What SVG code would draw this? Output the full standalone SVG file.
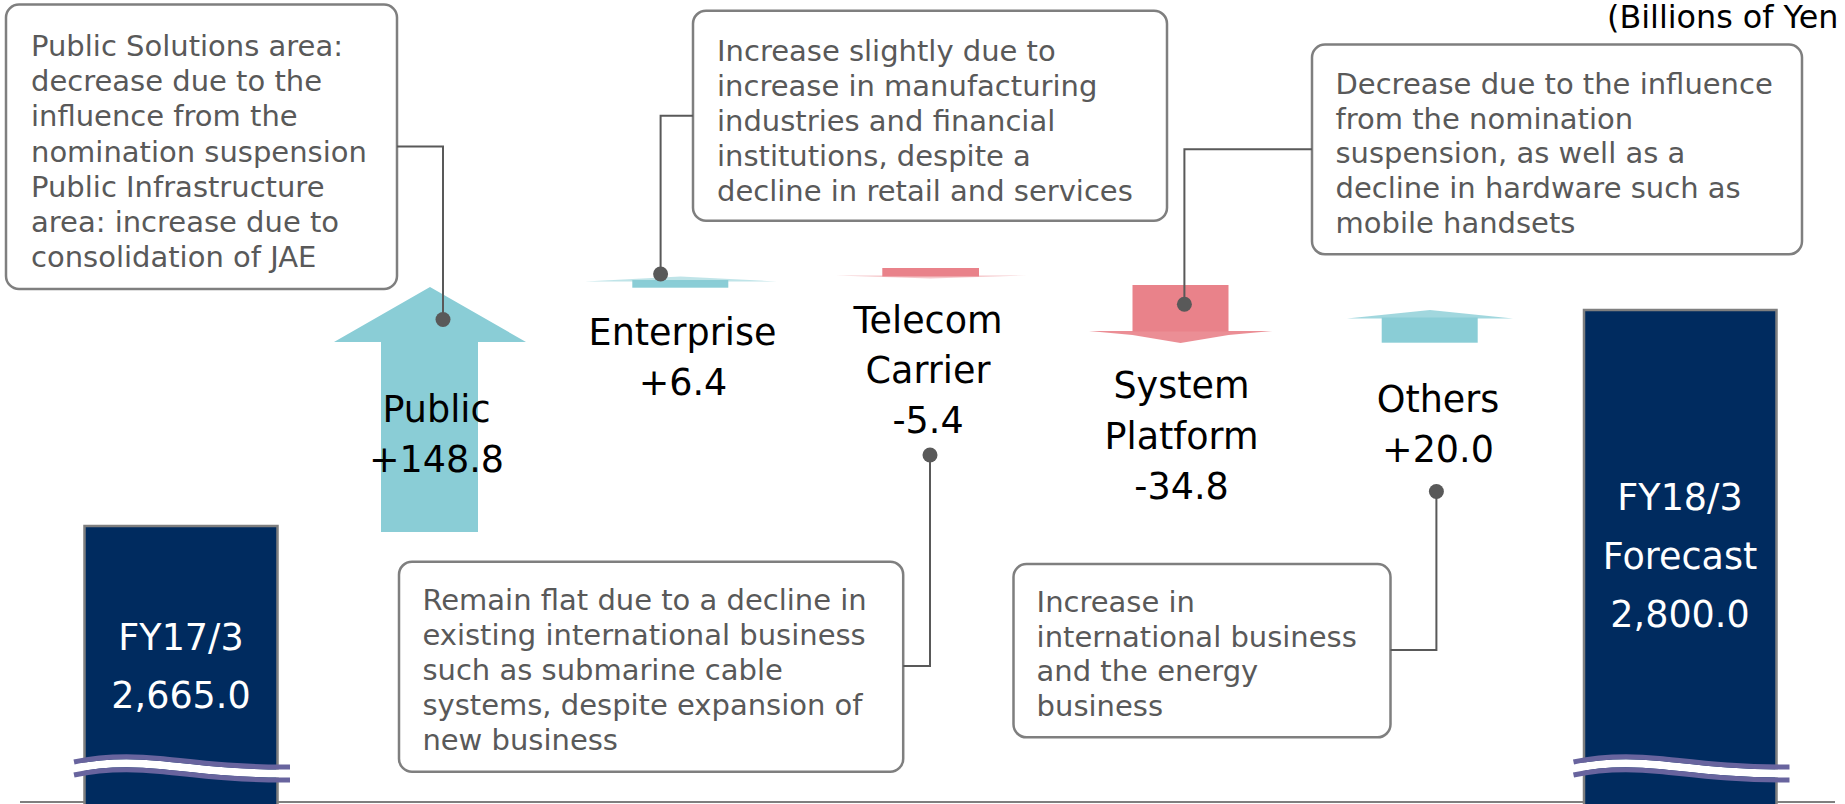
<svg xmlns="http://www.w3.org/2000/svg" width="1845" height="804" viewBox="0 0 1845 804">
  <style>
    .label { font-family: "DejaVu Sans", Verdana, sans-serif; font-size: 36.5px; fill: #000; text-anchor: middle; }
    .total { font-family: "DejaVu Sans", Verdana, sans-serif; font-size: 36.5px; fill: #fff; text-anchor: middle; }
    .note { font-family: "DejaVu Sans", Verdana, sans-serif; font-size: 29px; fill: #595959; }
    .box { fill: #fff; stroke: #7f7f7f; stroke-width: 2.5; }
    .bar { fill: #002b5f; stroke: #7f7f7f; stroke-width: 2.5; }
    .up { fill: #8acdd6; }
    .down { fill: #e9828a; }
    .lead { fill: none; stroke: #595959; stroke-width: 2; }
    .dot { fill: #595959; }
    .wave { fill: none; stroke: #68649e; stroke-width: 5; }
    .gap { fill: none; stroke: #fff; stroke-width: 8; }
  </style>
  <defs>
    <!-- broken-axis mark drawn across the total bars -->
    <g id="break">
      <path class="gap" d="M74,768.5 C95,764 125,761.5 160,765 C195,768.5 235,774 290,773.5"/>
      <path class="wave" d="M74,762 C95,757.5 125,755 160,758.5 C195,762 235,767.5 290,767"/>
      <path class="wave" d="M74,775 C95,770.5 125,768 160,771.5 C195,775 235,780.5 290,780"/>
    </g>
  </defs>

  <!-- unit note -->
  <text x="1607" y="28" font-family="DejaVu Sans, Verdana, sans-serif" font-size="31.8" fill="#000">(Billions of Yen</text>

  <!-- baseline axis -->
  <line x1="20" y1="802" x2="1835" y2="802" stroke="#7f7f7f" stroke-width="2"/>

  <!-- FY17/3 total -->
  <g id="fy17">
    <rect class="bar" x="84.5" y="526" width="193" height="280"/>
    <use href="#break"/>
    <text class="total" x="181" y="650">FY17/3</text>
    <text class="total" x="181" y="708">2,665.0</text>
  </g>

  <!-- FY18/3 forecast total -->
  <g id="fy18">
    <rect class="bar" x="1584" y="310" width="192.5" height="496"/>
    <use href="#break" transform="translate(1499.5,0)"/>
    <text class="total" x="1680" y="510">FY18/3</text>
    <text class="total" x="1680" y="568.5">Forecast</text>
    <text class="total" x="1680" y="627">2,800.0</text>
  </g>

  <!-- Public segment -->
  <g id="public">
    <polygon class="up" points="430,287 526,342 478,342 478,532 381,532 381,342 334,342"/>
    <text class="label" x="436.5" y="421.5">Public</text>
    <text class="label" x="436.5" y="471.5">+148.8</text>
  </g>

  <!-- Enterprise segment -->
  <g id="enterprise">
    <rect class="up" x="632.3" y="280" width="96" height="7.7"/>
    <polygon class="up" opacity="0.55" points="585,281.5 680.5,276.5 777,281.5"/>
    <text class="label" x="682.5" y="345">Enterprise</text>
    <text class="label" x="683" y="395">+6.4</text>
  </g>

  <!-- Telecom Carrier segment -->
  <g id="telecom">
    <rect class="down" x="882.3" y="268" width="96.7" height="8.5"/>
    <polygon class="down" opacity="0.45" points="836,275.5 1027,275.5 930.5,278.5"/>
    <text class="label" x="928" y="333">Telecom</text>
    <text class="label" x="928" y="383">Carrier</text>
    <text class="label" x="928" y="433">-5.4</text>
  </g>

  <!-- System Platform segment -->
  <g id="system-platform">
    <rect class="down" x="1132.5" y="285" width="96" height="46.5"/>
    <polygon class="down" opacity="0.9" points="1089,331 1272,331 1228.5,335 1180.5,343 1132.5,335"/>
    <text class="label" x="1181.5" y="398">System</text>
    <text class="label" x="1181.5" y="448.5">Platform</text>
    <text class="label" x="1181.5" y="498.5">-34.8</text>
  </g>

  <!-- Others segment -->
  <g id="others">
    <rect class="up" x="1381.7" y="317.5" width="96" height="25.2"/>
    <polygon class="up" opacity="0.8" points="1347,318.5 1430,310 1513,318.5"/>
    <text class="label" x="1438" y="411.5">Others</text>
    <text class="label" x="1438" y="461.5">+20.0</text>
  </g>

  <!-- explanatory notes -->
  <g id="note-public">
    <rect class="box" x="6" y="4.5" width="391" height="284.5" rx="13"/>
    <text class="note" x="31" y="56">Public Solutions area:</text>
    <text class="note" x="31" y="91.2">decrease due to the</text>
    <text class="note" x="31" y="126.4">influence from the</text>
    <text class="note" x="31" y="161.5">nomination suspension</text>
    <text class="note" x="31" y="196.7">Public Infrastructure</text>
    <text class="note" x="31" y="231.9">area: increase due to</text>
    <text class="note" x="31" y="267">consolidation of JAE</text>
  </g>

  <g id="note-enterprise">
    <rect class="box" x="693" y="10.7" width="474" height="210" rx="13"/>
    <text class="note" x="717" y="60.5">Increase slightly due to</text>
    <text class="note" x="717" y="95.5">increase in manufacturing</text>
    <text class="note" x="717" y="130.5">industries and financial</text>
    <text class="note" x="717" y="165.5">institutions, despite a</text>
    <text class="note" x="717" y="200.5">decline in retail and services</text>
  </g>

  <g id="note-system-platform">
    <rect class="box" x="1312" y="44.6" width="490" height="209.7" rx="13"/>
    <text class="note" x="1335.5" y="93.6">Decrease due to the influence</text>
    <text class="note" x="1335.5" y="128.5">from the nomination</text>
    <text class="note" x="1335.5" y="163.3">suspension, as well as a</text>
    <text class="note" x="1335.5" y="198.1">decline in hardware such as</text>
    <text class="note" x="1335.5" y="232.9">mobile handsets</text>
  </g>

  <g id="note-telecom">
    <rect class="box" x="399" y="561.7" width="504.2" height="210" rx="13"/>
    <text class="note" x="422.4" y="610">Remain flat due to a decline in</text>
    <text class="note" x="422.4" y="645">existing international business</text>
    <text class="note" x="422.4" y="680">such as submarine cable</text>
    <text class="note" x="422.4" y="715">systems, despite expansion of</text>
    <text class="note" x="422.4" y="750">new business</text>
  </g>

  <g id="note-others">
    <rect class="box" x="1013.5" y="564" width="377" height="173.3" rx="13"/>
    <text class="note" x="1036.6" y="612">Increase in</text>
    <text class="note" x="1036.6" y="646.6">international business</text>
    <text class="note" x="1036.6" y="681.2">and the energy</text>
    <text class="note" x="1036.6" y="715.8">business</text>
  </g>

  <!-- leader lines from notes to segments -->
  <g id="connectors">
    <polyline class="lead" points="397,146.4 443,146.4 443,319.5"/>
    <circle class="dot" cx="443" cy="319.5" r="7.5"/>
    <polyline class="lead" points="693,115.7 660.6,115.7 660.6,274"/>
    <circle class="dot" cx="660.6" cy="274" r="7.5"/>
    <polyline class="lead" points="930,455 930,666 903.2,666"/>
    <circle class="dot" cx="930" cy="455" r="7.5"/>
    <polyline class="lead" points="1312,149.3 1184.4,149.3 1184.4,304.3"/>
    <circle class="dot" cx="1184.4" cy="304.3" r="7.5"/>
    <polyline class="lead" points="1436.4,491.5 1436.4,650 1390.5,650"/>
    <circle class="dot" cx="1436.4" cy="491.5" r="7.5"/>
  </g>
</svg>
